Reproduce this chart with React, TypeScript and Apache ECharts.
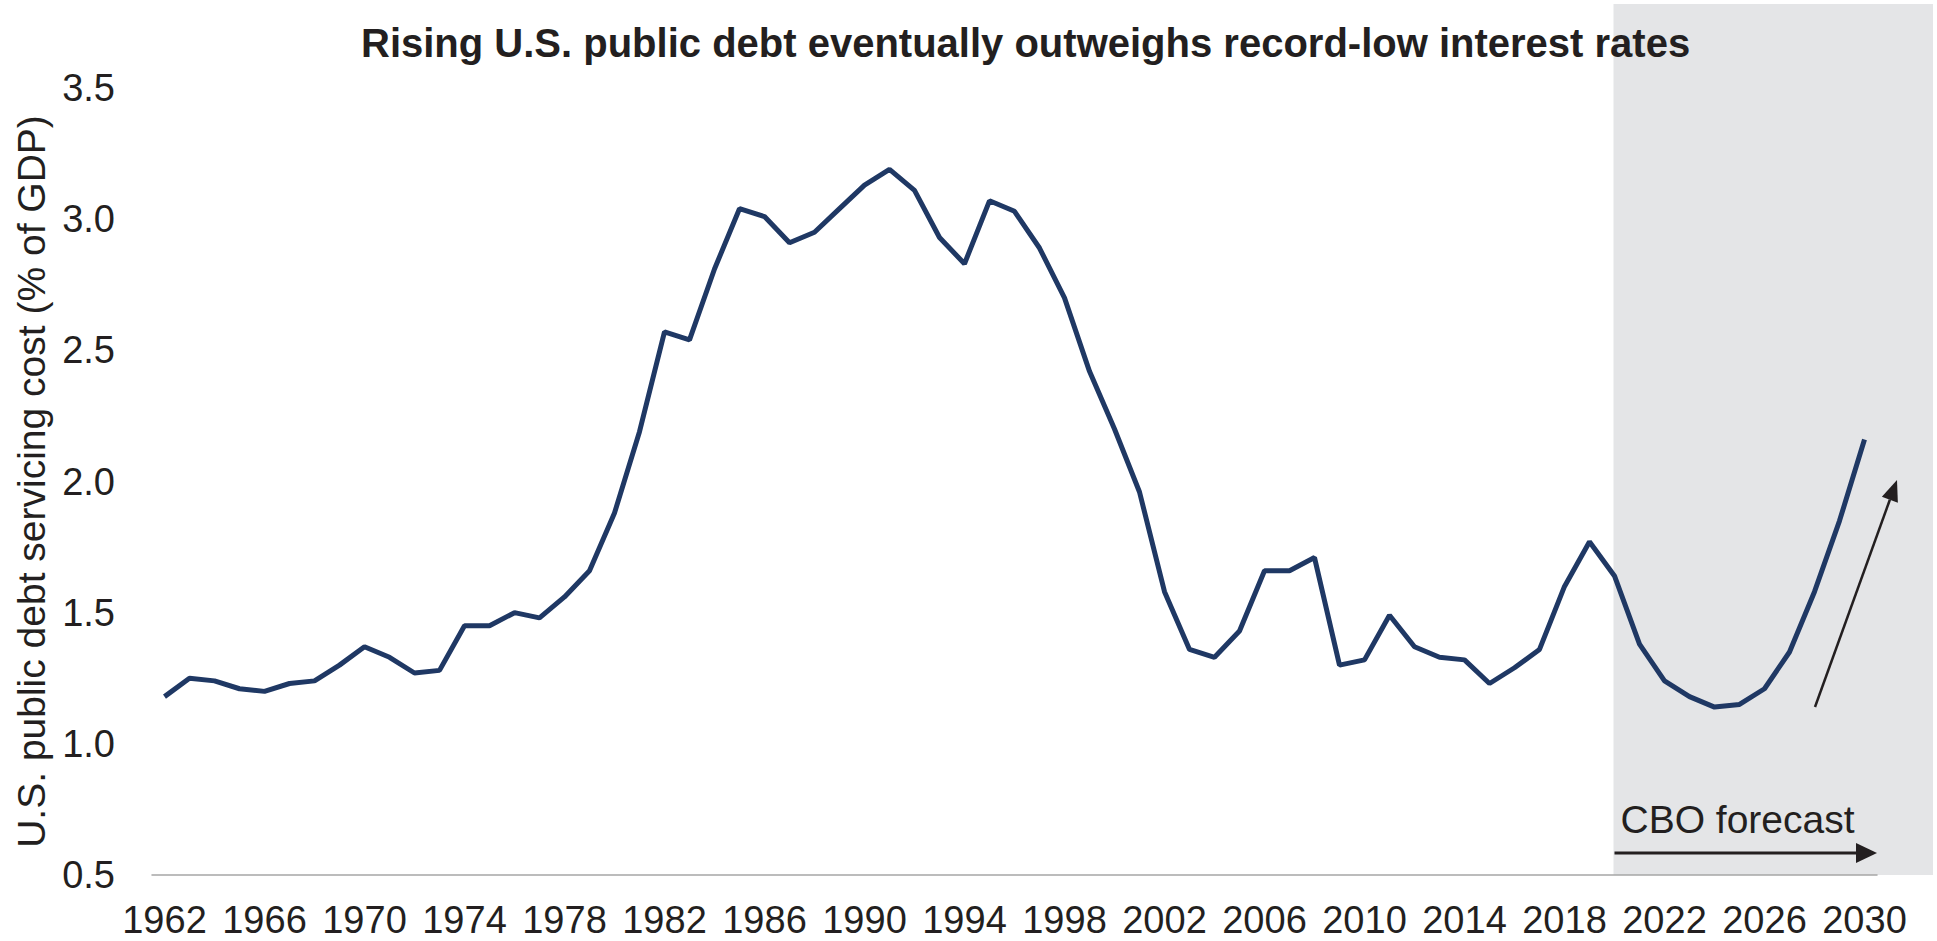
import { useEffect, useRef } from "react";
import * as echarts from "echarts";

const FIRST_YEAR = 1962;
const LAST_YEAR = 2030;
const years: string[] = Array.from({ length: LAST_YEAR - FIRST_YEAR + 1 }, (_, i) => String(FIRST_YEAR + i));

// U.S. public debt servicing cost, % of GDP (1962-2030; 2020 onward CBO forecast)
const debtServicingCost: number[] = [
  1.18, 1.25, 1.24, 1.21, 1.2, 1.23, 1.24, 1.3, 1.37, 1.33, // 1962-1971
  1.27, 1.28, 1.45, 1.45, 1.5, 1.48, 1.56, 1.66, 1.88, 2.19, // 1972-1981
  2.57, 2.54, 2.81, 3.04, 3.01, 2.91, 2.95, 3.04, 3.13, 3.19, // 1982-1991
  3.11, 2.93, 2.83, 3.07, 3.03, 2.89, 2.7, 2.42, 2.2, 1.96, // 1992-2001
  1.58, 1.36, 1.33, 1.43, 1.66, 1.66, 1.71, 1.3, 1.32, 1.49, // 2002-2011
  1.37, 1.33, 1.32, 1.23, 1.29, 1.36, 1.6, 1.77, 1.64, 1.38, // 2012-2021
  1.24, 1.18, 1.14, 1.15, 1.21, 1.35, 1.58, 1.85, 2.16, // 2022-2030
];

const Y_MIN = 0.5;
const Y_MAX = 3.5;
const Y_STEP = 0.5;
const FORECAST_START = "2020";

const TITLE = "Rising U.S. public debt eventually outweighs record-low interest rates";
const Y_NAME = "U.S. public debt servicing cost (% of GDP)";
const FORECAST_LABEL = "CBO forecast";

const FONT = "'Liberation Sans', Arial, Helvetica, sans-serif";
const TEXT = "#231F20";
const NAVY = "#1F3864";
const SHADE = "#E4E5E7";

function arrowHead(x1: number, y1: number, x2: number, y2: number, len: number, half: number) {
  const dx = x2 - x1;
  const dy = y2 - y1;
  const l = Math.hypot(dx, dy);
  const ux = dx / l;
  const uy = dy / l;
  const bx = x2 - ux * len;
  const by = y2 - uy * len;
  return {
    base: [bx, by],
    pts: [
      [x2, y2],
      [bx - uy * half, by + ux * half],
      [bx + uy * half, by - ux * half],
    ],
  };
}

export default function App() {
  const ref = useRef<HTMLDivElement>(null);
  useEffect(() => {
    const chart = echarts.init(ref.current!, undefined, { renderer: "svg" });
    chart.setOption({
      animation: false,
      backgroundColor: "#ffffff",
      textStyle: { fontFamily: FONT },
      title: {
        text: TITLE,
        left: 356,
        top: 18,
        z: 10,
        textStyle: { fontFamily: FONT, fontSize: 40, fontWeight: "bold", color: TEXT },
      },
      grid: { left: 152, right: 60, top: 88, bottom: 66, containLabel: false },
      xAxis: {
        type: "category",
        data: years,
        boundaryGap: true,
        axisLine: { show: true, lineStyle: { color: "#A6A6A6", width: 1.5 } },
        axisTick: { show: false },
        axisLabel: { interval: 3, color: TEXT, fontSize: 38, fontFamily: FONT, margin: 26 },
        splitLine: { show: false },
        z: 5,
      },
      yAxis: {
        type: "value",
        min: Y_MIN,
        max: Y_MAX,
        interval: Y_STEP,
        name: Y_NAME,
        nameLocation: "middle",
        nameRotate: 90,
        nameGap: 97,
        nameTextStyle: { fontSize: 39, color: TEXT, fontFamily: FONT },
        axisLine: { show: false },
        axisTick: { show: false },
        splitLine: { show: false },
        axisLabel: {
          color: TEXT,
          fontSize: 38,
          fontFamily: FONT,
          margin: 37,
          formatter: (v: number) => v.toFixed(1),
        },
      },
      series: [
        {
          type: "line",
          data: debtServicingCost,
          symbol: "none",
          smooth: false,
          z: 6,
          lineStyle: { color: NAVY, width: 5 },
        },
      ],
    });

    const xs = chart.convertToPixel({ xAxisIndex: 0 }, FORECAST_START) as number;
    const y0 = chart.convertToPixel({ yAxisIndex: 0 }, Y_MIN) as number;
    const gridRight = 1937 - 60;

    const hY = y0 - 22;
    const hHead = arrowHead(xs, hY, gridRight, hY, 21, 10);
    const d1 = [1815, 707];
    const d2 = [1897, 480];
    const dHead = arrowHead(d1[0], d1[1], d2[0], d2[1], 21, 8.5);

    chart.setOption({
      graphic: [
        {
          type: "rect",
          z: -10,
          silent: true,
          shape: { x: xs - 1, y: 4, width: 1934 - xs, height: y0 - 4 },
          style: { fill: SHADE },
        },
        {
          type: "line",
          z: 20,
          silent: true,
          shape: { x1: xs, y1: hY, x2: hHead.base[0], y2: hY },
          style: { stroke: TEXT, lineWidth: 3 },
        },
        {
          type: "polygon",
          z: 20,
          silent: true,
          shape: { points: hHead.pts },
          style: { fill: TEXT },
        },
        {
          type: "text",
          z: 20,
          silent: true,
          x: xs + 6,
          y: 819,
          style: {
            text: FORECAST_LABEL,
            fontSize: 39,
            fontFamily: FONT,
            fill: TEXT,
            textAlign: "left",
            textVerticalAlign: "middle",
          },
        },
        {
          type: "line",
          z: 20,
          silent: true,
          shape: { x1: d1[0], y1: d1[1], x2: dHead.base[0], y2: dHead.base[1] },
          style: { stroke: TEXT, lineWidth: 2.5 },
        },
        {
          type: "polygon",
          z: 20,
          silent: true,
          shape: { points: dHead.pts },
          style: { fill: TEXT },
        },
      ],
    });

    return () => chart.dispose();
  }, []);
  return <div ref={ref} style={{ position: "absolute", left: 0, top: 0, width: 1937, height: 941 }} />;
}
